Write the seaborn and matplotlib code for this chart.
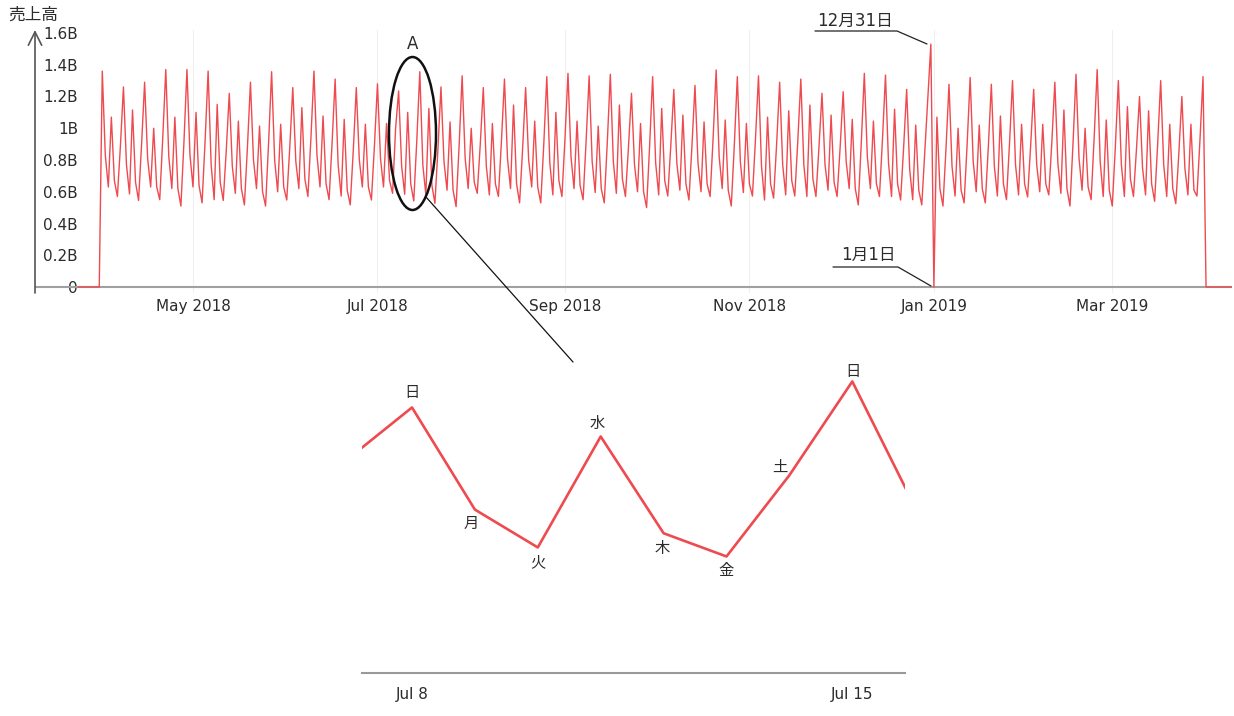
import numpy as np
import pandas as pd
import matplotlib
matplotlib.use("Agg")
import matplotlib.pyplot as plt
import matplotlib.dates as mdates
from matplotlib.patches import Ellipse
from matplotlib.lines import Line2D
import seaborn as sns

# ---------------- data (billions of yen) ----------------
series_start = "2018-03-24"
zeros_before = [0.0] * 8          # Mar 24 - Mar 31 2018
zeros_after = [0.0] * 10          # Apr 1 - Apr 10 2019

# one value per week, week 0 starts Sunday 2018-04-01
sun = [1.36, 1.26, 1.29, 1.37, 1.37, 1.36, 1.22, 1.29, 1.356, 1.256,
       1.36, 1.31, 1.256, 1.28, 1.235, 1.356, 1.26, 1.33, 1.256, 1.31,
       1.256, 1.325, 1.346, 1.33, 1.34, 1.22, 1.325, 1.245, 1.27, 1.367,
       1.325, 1.33, 1.29, 1.31, 1.22, 1.23, 1.346, 1.335, 1.245, 1.19,
       1.277, 1.32, 1.277, 1.30, 1.245, 1.29, 1.34, 1.37, 1.30, 1.20,
       1.30, 1.20, 1.325]
mon = [0.83, 0.77, 0.81, 0.82, 0.83, 0.77, 0.76, 0.80, 0.80, 0.79,
       0.83, 0.77, 0.80, 0.81, 0.76, 0.77, 0.79, 0.81, 0.76, 0.81,
       0.80, 0.78, 0.82, 0.79, 0.79, 0.77, 0.78, 0.78, 0.78, 0.82,
       0.79, 0.76, 0.77, 0.77, 0.77, 0.79, 0.82, 0.78, 0.74, 1.53,
       0.76, 0.79, 0.76, 0.77, 0.77, 0.78, 0.81, 0.79, 0.77, 0.75,
       0.77, 0.75]
tue = [0.63, 0.586, 0.63, 0.62, 0.63, 0.55, 0.59, 0.62, 0.60, 0.62,
       0.63, 0.573, 0.63, 0.63, 0.584, 0.58, 0.61, 0.62, 0.58, 0.62,
       0.63, 0.58, 0.62, 0.595, 0.59, 0.60, 0.58, 0.61, 0.60, 0.62,
       0.595, 0.548, 0.58, 0.57, 0.61, 0.62, 0.62, 0.57, 0.55, 0.0,
       0.573, 0.60, 0.573, 0.58, 0.60, 0.59, 0.61, 0.57, 0.57, 0.58,
       0.57, 0.58]
wed = [1.07, 1.115, 1.00, 1.07, 1.10, 1.15, 1.045, 1.014, 1.025, 1.13,
       1.077, 1.056, 1.025, 1.03, 1.10, 1.125, 1.04, 1.00, 1.03, 1.146,
       1.045, 1.10, 1.045, 1.014, 1.146, 1.03, 1.125, 1.083, 1.04, 1.052,
       1.03, 1.07, 1.11, 1.146, 1.083, 1.056, 1.045, 1.12, 1.02, 1.07,
       1.00, 1.02, 1.077, 1.025, 1.025, 1.115, 1.00, 1.052, 1.136, 1.11,
       1.025, 1.025]
thu = [0.67, 0.66, 0.63, 0.62, 0.64, 0.66, 0.62, 0.60, 0.63, 0.68,
       0.65, 0.61, 0.63, 0.67, 0.65, 0.64, 0.61, 0.66, 0.65, 0.65,
       0.63, 0.67, 0.64, 0.62, 0.68, 0.60, 0.67, 0.65, 0.65, 0.61,
       0.65, 0.65, 0.67, 0.68, 0.66, 0.62, 0.65, 0.65, 0.61, 0.62,
       0.61, 0.62, 0.65, 0.65, 0.65, 0.62, 0.63, 0.61, 0.68, 0.65,
       0.62, 0.61]
fri = [0.57, 0.545, 0.55, 0.51, 0.53, 0.545, 0.517, 0.51, 0.548, 0.57,
       0.55, 0.517, 0.548, 0.59, 0.542, 0.527, 0.506, 0.59, 0.57, 0.53,
       0.53, 0.57, 0.55, 0.53, 0.57, 0.50, 0.573, 0.548, 0.57, 0.51,
       0.573, 0.56, 0.573, 0.57, 0.57, 0.517, 0.57, 0.548, 0.517, 0.51,
       0.53, 0.53, 0.55, 0.567, 0.58, 0.51, 0.55, 0.51, 0.57, 0.54,
       0.525, 0.573]
sat = [0.89, 0.90, 0.94, 0.91, 0.92, 0.86, 0.88, 0.91, 0.88, 0.94,
       0.91, 0.86, 0.89, 1.00, 0.92, 0.87, 0.89, 0.90, 0.92, 0.87,
       0.90, 0.93, 0.92, 0.91, 0.88, 0.89, 0.89, 0.89, 0.94, 0.89,
       0.93, 0.90, 0.92, 0.88, 0.88, 0.91, 0.93, 0.88, 0.85, 0.87,
       0.90, 0.88, 0.90, 0.89, 0.91, 0.90, 0.94, 0.88, 0.87, 0.90,
       0.84, 0.93]

y_ticks = [0, 0.2, 0.4, 0.6, 0.8, 1.0, 1.2, 1.4, 1.6]
inset_labels = ["日", "月", "火", "水", "木", "金", "土", "日"]   # Jul 8 .. Jul 15 2018
inset_ticks = ["2018-07-08", "2018-07-15"]

values = list(zeros_before)
for k in range(len(mon)):
    values += [sun[k], mon[k], tue[k], wed[k], thu[k], fri[k], sat[k]]
values.append(sun[-1])
values += zeros_after
df = pd.DataFrame({"date": pd.date_range(series_start, periods=len(values), freq="D"),
                   "sales": values})

# ---------------- figure ----------------
sns.set_theme(style="white")
plt.rcParams["font.family"] = ["DejaVu Sans", "Noto Sans CJK JP"]

W, H = 1234, 716
RED = "#ee4a4f"
TXT = "#2b2b2b"
fig = plt.figure(figsize=(W / 100, H / 100), dpi=100)


def fx(px):
    return px / W


def fy(py):
    return 1 - py / H


# main chart
ax = fig.add_axes([fx(35), fy(293), fx(1232) - fx(35), fy(30) - fy(293)])
sns.lineplot(data=df, x="date", y="sales", ax=ax, color=RED, lw=1.0, zorder=3)

may1 = mdates.date2num(pd.Timestamp("2018-05-01"))
ppd = 3.024  # pixels per day
ax.set_xlim(may1 - (193 - 35) / ppd, may1 + (1232 - 193) / ppd)
ppb = 158.75  # pixels per billion
ax.set_ylim(-(293 - 287) / ppb, (287 - 30) / ppb)

for s in ax.spines.values():
    s.set_visible(False)
ax.axhline(0, color="#a0a0a0", lw=1.5, zorder=1)
ax.grid(True, axis="x", color="#efefef", lw=0.8)
ax.grid(False, axis="y")
ax.set_xlabel("")
ax.set_ylabel("")

ax.set_yticks(y_ticks)
ax.set_yticklabels(["0" if v == 0 else f"{v:g}B" for v in y_ticks])
ax.tick_params(axis="y", length=0, pad=-31, labelsize=11, labelcolor=TXT)
ax.xaxis.set_major_locator(mdates.MonthLocator(bymonth=[1, 3, 5, 7, 9, 11]))
ax.xaxis.set_major_formatter(mdates.DateFormatter("%b %Y"))
ax.tick_params(axis="x", length=0, pad=4, labelsize=11, labelcolor=TXT)

# y axis arrow
ax.annotate("", xy=(0, 1), xycoords="axes fraction", xytext=(0, 0),
            textcoords="axes fraction", annotation_clip=False,
            arrowprops=dict(arrowstyle="->,head_length=0.8,head_width=0.4",
                            color="#555555", lw=1.2, shrinkA=0, shrinkB=0))
fig.text(fx(33), fy(15), "売上高", ha="center", va="center", fontsize=12, color=TXT)

fig.canvas.draw()
inv = ax.transData.inverted()


def p2d(px, py):
    return inv.transform((px, H - py))


# ellipse "A"
c = p2d(412.5, 133.5)
a0 = p2d(389, 210)
a1 = p2d(436, 57)
ax.add_patch(Ellipse(c, a1[0] - a0[0], a1[1] - a0[1], fill=False,
                     ec="#111111", lw=1.8, zorder=5, clip_on=False))
ax.text(c[0], p2d(0, 44)[1], "A", ha="center", va="center", fontsize=12, color=TXT)

# callouts
fig.text(fx(855), fy(21), "12月31日", ha="center", va="center", fontsize=12, color=TXT)
fig.add_artist(Line2D([fx(815), fx(897), fx(927)], [fy(31), fy(31), fy(44)],
                      color="#222222", lw=0.9))
fig.text(fx(868), fy(255), "1月1日", ha="center", va="center", fontsize=12, color=TXT)
fig.add_artist(Line2D([fx(833), fx(898), fx(931)], [fy(267), fy(267), fy(286)],
                      color="#222222", lw=0.9))

# link to inset
fig.add_artist(Line2D([fx(426), fx(573)], [fy(197), fy(362)], color="#111111", lw=0.9))

# ---------------- inset ----------------
ax2 = fig.add_axes([fx(362), fy(673), fx(905) - fx(362), fy(362) - fy(673)])
sub = df[(df["date"] >= "2018-07-05") & (df["date"] <= "2018-07-18")]
sns.lineplot(data=sub, x="date", y="sales", ax=ax2, color=RED, lw=1.9)
jul8 = mdates.date2num(pd.Timestamp("2018-07-08"))
ppd2 = 62.9
ax2.set_xlim(jul8 - (412 - 362) / ppd2, jul8 + (905 - 412) / ppd2)
ax2.set_ylim(0, (673 - 362) / 215)
for side in ["left", "right", "top"]:
    ax2.spines[side].set_visible(False)
ax2.spines["bottom"].set_color("#999999")
ax2.spines["bottom"].set_linewidth(1.5)
ax2.set_yticks([])
ax2.set_xlabel("")
ax2.set_ylabel("")
ax2.set_xticks([mdates.date2num(pd.Timestamp(t)) for t in inset_ticks])
ax2.set_xticklabels([pd.Timestamp(t).strftime("%b ") + str(pd.Timestamp(t).day) for t in inset_ticks])
ax2.tick_params(axis="x", length=0, pad=10, labelsize=11, labelcolor=TXT)

offsets = [(0, 15), (-4, -14), (0, -15), (-3, 13), (-1, -15), (0, -14), (-10, 8), (1, 10)]
wk = df[(df["date"] >= "2018-07-08") & (df["date"] <= "2018-07-15")].reset_index(drop=True)
for i, lab in enumerate(inset_labels):
    ax2.annotate(lab, xy=(mdates.date2num(wk.loc[i, "date"]), wk.loc[i, "sales"]),
                 xytext=offsets[i], textcoords="offset pixels",
                 ha="center", va="center", fontsize=11, color=TXT)

fig.savefig("out.png", dpi=100)
